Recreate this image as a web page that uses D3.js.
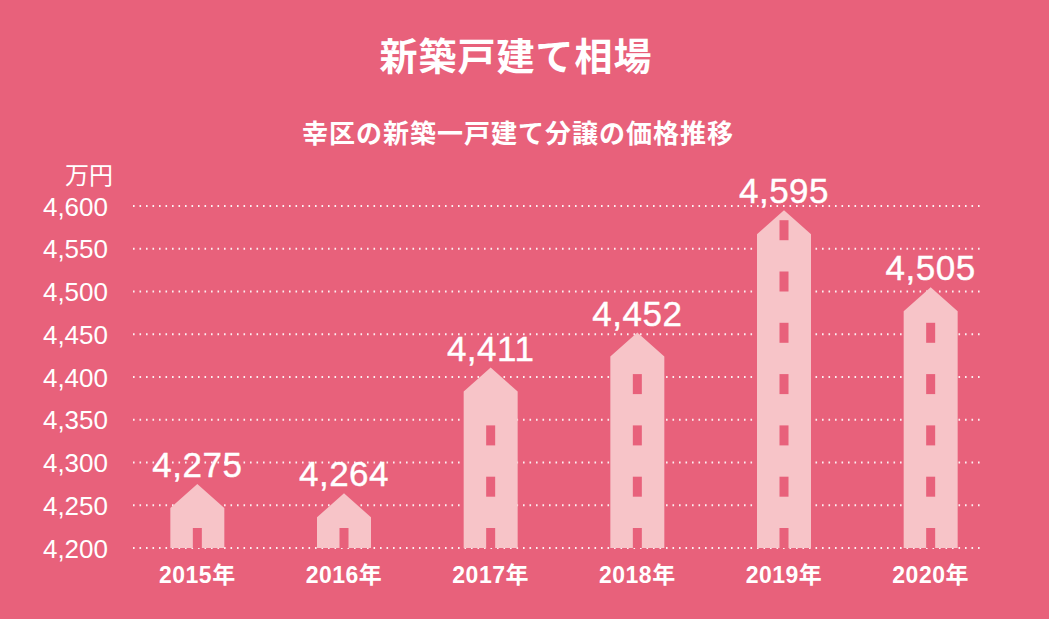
<!DOCTYPE html>
<html><head><meta charset="utf-8">
<script src="https://cdn.jsdelivr.net/npm/d3@7"></script>
<style>
html,body{margin:0;padding:0;background:#fff;}
svg{display:block;}
</style></head>
<body>
<svg id="chart" width="1049" height="619"></svg>
<script>
const title = "新築戸建て相場";
const subtitle = "幸区の新築一戸建て分譲の価格推移";
const unitLabel = "万円";
const years = ["2015年","2016年","2017年","2018年","2019年","2020年"];
const prices = [4275, 4264, 4411, 4452, 4595, 4505];
const yTicks = [4200, 4250, 4300, 4350, 4400, 4450, 4500, 4550, 4600];

const W = 1049, H = 619;
const bg = "#E8617B", bldg = "#F7C4C8";
const svg = d3.select("#chart");
svg.append("rect").attr("width", W).attr("height", H).attr("fill", bg);

const x = d3.scaleBand().domain(years).range([124, 1004]).padding(0);
const y = d3.scaleLinear().domain([4200, 4600]).range([548, 206]);
const cx = d => x(d) + x.bandwidth() / 2;

const cjk = "'Noto Sans CJK JP','Noto Sans',sans-serif";
const latin = "'Liberation Sans','Noto Sans CJK JP',sans-serif";

// titles
svg.append("text").text(title).attr("x", 516).attr("y", 53)
  .attr("text-anchor", "middle").attr("dominant-baseline", "central")
  .attr("fill", "#fff").attr("font-family", cjk).attr("font-weight", 700)
  .attr("font-size", 38).attr("letter-spacing", 1);
svg.append("text").text(subtitle).attr("x", 518).attr("y", 131)
  .attr("text-anchor", "middle").attr("dominant-baseline", "central")
  .attr("fill", "#fff").attr("font-family", cjk).attr("font-weight", 700)
  .attr("font-size", 26).attr("letter-spacing", 1);

// gridlines
svg.append("g").selectAll("line").data(yTicks).join("line")
  .attr("x1", 133).attr("x2", 982)
  .attr("y1", d => y(d)).attr("y2", d => y(d))
  .attr("stroke", "#fff").attr("stroke-width", 2)
  .attr("stroke-dasharray", "1.6 4.9").attr("opacity", 0.9);

// y axis
const yAxis = svg.append("g").attr("transform", "translate(108,0)")
  .call(d3.axisLeft(y).tickValues(yTicks).tickSize(0).tickPadding(0).tickFormat(d3.format(",")));
yAxis.select(".domain").remove();
yAxis.selectAll("text").attr("fill", "#fff").attr("font-family", latin)
  .attr("font-weight", 400).attr("font-size", 26).attr("dy", "0.35em");

svg.append("text").text(unitLabel).attr("x", 113).attr("y", 173)
  .attr("text-anchor", "end").attr("dominant-baseline", "central")
  .attr("fill", "#fff").attr("font-family", cjk).attr("font-weight", 400).attr("font-size", 24);

// buildings
const bw = 54, roofH = 24, winW = 9, winH = 20;
const data = years.map((yr, i) => ({ yr, v: prices[i] }));
const g = svg.append("g");
data.forEach(d => {
  const c = cx(d.yr), top = y(d.v), base = y(4200);
  const p = d3.path();
  p.moveTo(c - bw / 2, base);
  p.lineTo(c - bw / 2, top + roofH);
  p.lineTo(c, top);
  p.lineTo(c + bw / 2, top + roofH);
  p.lineTo(c + bw / 2, base);
  p.closePath();
  g.append("path").attr("d", p.toString()).attr("fill", bldg);
  // door + windows every 60 units
  const wins = [];
  for (let k = 0; ; k++) {
    const v0 = 4200 + 60 * k;
    const topPx = y(v0) - winH;
    if (k > 0 && topPx < top + 8.5) break;
    wins.push(topPx);
  }
  g.selectAll(null).data(wins).join("rect")
    .attr("x", c - winW / 2).attr("y", t => t)
    .attr("width", winW).attr("height", winH).attr("fill", bg);
  g.append("text").text(d3.format(",")(d.v)).attr("x", c).attr("y", top - 7)
    .attr("text-anchor", "middle").attr("fill", "#fff")
    .attr("stroke", "#fff").attr("stroke-width", 0.4)
    .attr("font-family", latin).attr("font-weight", 400).attr("font-size", 35)
    .attr("letter-spacing", 0.5);
});

// x labels
svg.append("g").selectAll("text").data(years).join("text")
  .text(d => d).attr("x", d => cx(d)).attr("y", 575)
  .attr("text-anchor", "middle").attr("dominant-baseline", "central")
  .attr("fill", "#fff").attr("font-family", latin).attr("font-weight", 700)
  .attr("font-size", 23).attr("letter-spacing", 0.5);
</script>
</body></html>
